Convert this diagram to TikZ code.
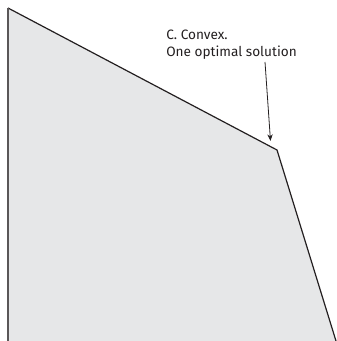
\documentclass[tikz,border=0pt]{standalone}
\usepackage{fontspec}
\setmainfont{Fira Sans}
\usetikzlibrary{arrows.meta}
\definecolor{fillgray}{HTML}{E6E7E8}
\definecolor{ink}{HTML}{231F20}
\begin{document}
\begin{tikzpicture}[x=0.75pt,y=-0.75pt,
  edge/.style={draw=ink,line width=0.9pt},
  lbl/.style={font=\fontsize{10.2pt}{13pt}\selectfont,text=ink,align=left,inner sep=0pt,anchor=north west}]
\useasboundingbox (0,0) rectangle (336,341);
\coordinate (tl) at (8,8);
\coordinate (bl) at (8,341);
\coordinate (corner) at (277,150);
\coordinate (br) at (336,341);
\fill[fillgray] (bl) -- (tl) -- (corner) -- (br) -- cycle;
\draw[edge] (tl) -- (corner) -- (br);
\draw[draw=ink!75,line width=1.1pt] (tl) -- (bl);
\node[lbl] (txt) at (166,29.5) {C. Convex.\\One optimal solution};
\coordinate (tail) at (265,62);
\coordinate (tip) at (270.5,141);
\draw[ink,line width=0.6pt,-{Stealth[length=5pt,width=4pt]}] (tail) -- (tip);
\end{tikzpicture}
\end{document}
